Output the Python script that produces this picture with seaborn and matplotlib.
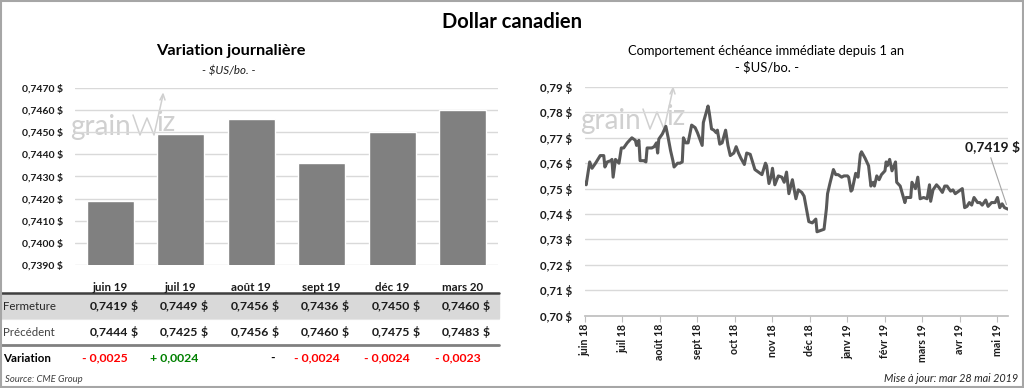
import matplotlib
matplotlib.use("Agg")
import matplotlib.pyplot as plt
import matplotlib.transforms as mtransforms
from matplotlib.patches import Rectangle
from matplotlib.ticker import MultipleLocator, FuncFormatter
import numpy as np
import pandas as pd
import seaborn as sns

# ---------------- data ----------------
contracts = ["juin 19", "juil 19", "août 19", "sept 19", "déc 19", "mars 20"]
fermeture = [0.7419, 0.7449, 0.7456, 0.7436, 0.7450, 0.7460]
precedent = [0.7444, 0.7425, 0.7456, 0.7460, 0.7475, 0.7483]
variation = [-0.0025, 0.0024, 0.0, -0.0024, -0.0024, -0.0023]

start_date = "2018-06-01"
day_offsets = [
    0, 1, 4, 6, 9, 11, 13, 16, 17, 19, 22, 23, 24, 26, 29, 31, 33, 36, 40, 43,
    44, 46, 47, 50, 52, 53, 57, 59, 61, 62, 63, 66, 69, 71, 73, 75, 76, 79, 81, 83,
    84, 86, 88, 91, 94, 96, 100, 101, 105, 106, 108, 110, 112, 113, 115, 117, 120, 122, 124, 127,
    129, 131, 133, 136, 138, 141, 143, 145, 148, 151, 154, 155, 157, 159, 160, 162, 165, 168, 170, 172,
    174, 177, 180, 182, 185, 187, 189, 191, 194, 197, 198, 201, 204, 206, 207, 209, 212, 214, 216, 219,
    221, 224, 225, 227, 228, 231, 233, 235, 236, 239, 242, 244, 246, 247, 249, 251, 253, 256, 257, 258,
    260, 262, 265, 266, 269, 273, 274, 278, 279, 282, 284, 286, 289, 292, 294, 295, 297, 300, 302, 305,
    307, 309, 312, 314, 316, 319, 322, 324, 326, 328, 330, 332, 335, 337, 339, 342, 344, 347, 350, 352,
    354, 356, 358, 361,
]
prices = [
    0.7525, 0.7515, 0.7605, 0.7580, 0.7600, 0.7615, 0.7630, 0.7630, 0.7585, 0.7605,
    0.7610, 0.7615, 0.7545, 0.7615, 0.7600, 0.7660, 0.7660, 0.7680, 0.7700, 0.7690,
    0.7670, 0.7690, 0.7610, 0.7610, 0.7605, 0.7660, 0.7660, 0.7665, 0.7680, 0.7640,
    0.7695, 0.7715, 0.7745, 0.7700, 0.7650, 0.7610, 0.7585, 0.7600, 0.7600, 0.7605,
    0.7700, 0.7680, 0.7680, 0.7750, 0.7740, 0.7720, 0.7670, 0.7760, 0.7825, 0.7800,
    0.7735, 0.7730, 0.7720, 0.7730, 0.7675, 0.7680, 0.7730, 0.7670, 0.7630, 0.7640,
    0.7665, 0.7640, 0.7620, 0.7595, 0.7640, 0.7635, 0.7605, 0.7575, 0.7565, 0.7555,
    0.7600, 0.7590, 0.7520, 0.7550, 0.7580, 0.7515, 0.7550, 0.7545, 0.7525, 0.7565,
    0.7480, 0.7535, 0.7460, 0.7495, 0.7485, 0.7470, 0.7420, 0.7370, 0.7365, 0.7380,
    0.7330, 0.7335, 0.7340, 0.7420, 0.7480, 0.7520, 0.7575, 0.7555, 0.7555, 0.7545,
    0.7550, 0.7550, 0.7545, 0.7490, 0.7495, 0.7560, 0.7545, 0.7635, 0.7645, 0.7620,
    0.7590, 0.7510, 0.7525, 0.7510, 0.7550, 0.7535, 0.7555, 0.7570, 0.7605, 0.7590,
    0.7615, 0.7570, 0.7605, 0.7525, 0.7510, 0.7445, 0.7465, 0.7465, 0.7525, 0.7500,
    0.7545, 0.7460, 0.7465, 0.7460, 0.7515, 0.7450, 0.7495, 0.7515, 0.7505, 0.7485,
    0.7510, 0.7510, 0.7490, 0.7495, 0.7480, 0.7490, 0.7500, 0.7425, 0.7430, 0.7445,
    0.7435, 0.7465, 0.7445, 0.7445, 0.7435, 0.7455, 0.7430, 0.7445, 0.7445, 0.7465,
    0.7425, 0.7440, 0.7425, 0.7419,
]
last_price_label = "0,7419 $"
fr_months = ["janv", "févr", "mars", "avr", "mai", "juin",
             "juil", "août", "sept", "oct", "nov", "déc"]

assert len(day_offsets) == len(prices)

# ---------------- style ----------------
sns.set_theme(style="white")
plt.rcParams["font.family"] = ["Lato", "DejaVu Sans"]

W, H = 1024, 388
fig = plt.figure(figsize=(W / 100, H / 100), dpi=100)
fig.patch.set_facecolor("white")


def rect(x0, y0, x1, y1):
    return [x0 / W, 1 - y1 / H, (x1 - x0) / W, (y1 - y0) / H]


overlay = fig.add_axes([0, 0, 1, 1], zorder=0)
overlay.set_xlim(0, W)
overlay.set_ylim(H, 0)
overlay.axis("off")

GRID = "#d9d9d9"
TXT = "#1a1a1a"

# ---------------- left: bar chart ----------------
ax1 = fig.add_axes(rect(75, 88, 498, 265), zorder=1)
ax1.patch.set_alpha(0)
sns.barplot(x=contracts, y=fermeture, color="#808080", saturation=1,
            width=0.67, ax=ax1)
ax1.set_ylim(0.739, 0.747)
ax1.yaxis.set_major_locator(MultipleLocator(0.001))
ax1.yaxis.set_major_formatter(
    FuncFormatter(lambda v, p: f"{v:.4f}".replace(".", ",") + " $"))
ax1.yaxis.grid(True, color=GRID, lw=1)
ax1.set_axisbelow(True)
for s in ax1.spines.values():
    s.set_visible(False)
ax1.set_xlabel("")
ax1.set_ylabel("")
ax1.tick_params(axis="y", length=0, pad=8.5, labelsize=7.5, labelcolor=TXT)
ax1.tick_params(axis="x", length=0, pad=12, labelsize=8.3, labelcolor=TXT)
for lab in ax1.get_yticklabels() + ax1.get_xticklabels():
    lab.set_fontweight("bold")

# ---------------- right: line chart ----------------
dates = pd.to_datetime(start_date) + pd.to_timedelta(day_offsets, unit="D")
ax2 = fig.add_axes(rect(585, 87, 1008, 315.6), zorder=1)
ax2.patch.set_alpha(0)
sns.lineplot(x=dates, y=prices, ax=ax2, color="#595959", lw=2.2)
ax2.set_xlim(dates[0], dates[-1])
ax2.set_ylim(0.70, 0.79)
ax2.yaxis.set_major_locator(MultipleLocator(0.01))
ax2.yaxis.set_major_formatter(
    FuncFormatter(lambda v, p: f"{v:.2f}".replace(".", ",") + " $"))
ax2.yaxis.grid(True, color=GRID, lw=1)
ax2.set_axisbelow(True)
for k, s in ax2.spines.items():
    s.set_visible(k == "bottom")
ax2.spines["bottom"].set_color("#bfbfbf")
ax2.set_xlabel("")
ax2.set_ylabel("")
xt = pd.date_range(dates[0], periods=12, freq="32D")
ax2.set_xticks(xt)
ax2.set_xticklabels([f"{fr_months[d.month - 1]} {d.year % 100:02d}" for d in xt],
                    rotation=90, fontweight="bold", fontsize=7.7, color=TXT)
ax2.tick_params(axis="x", length=4, width=0.8, color="#bfbfbf", pad=2,
                bottom=True)
ax2.tick_params(axis="y", length=0, pad=9, labelsize=8.3, labelcolor=TXT)
for lab in ax2.get_yticklabels():
    lab.set_fontweight("bold")

ax2.annotate(last_price_label, xy=(dates[-1], prices[-1]),
             xytext=(-11.5, 45), textcoords="offset points",
             ha="center", va="center", fontsize=10, fontweight="bold", color=TXT,
             arrowprops=dict(arrowstyle="-", color="#a6a6a6", lw=0.8,
                             relpos=(0.45, 0), shrinkA=1, shrinkB=3.5))

# ---------------- titles ----------------
overlay.text(512, 22, "Dollar canadien", ha="center", va="center",
             fontsize=14.5, fontweight="bold", color="#000000")
overlay.text(231, 51, "Variation journalière", ha="center", va="center",
             fontsize=11.8, fontweight="bold", color="#000000")
overlay.text(229, 71, "- $US/bo. -", ha="center", va="center",
             fontsize=8.3, style="italic", color=TXT)
overlay.text(766, 51, "Comportement échéance immédiate depuis 1 an",
             ha="center", va="center", fontsize=9.4, color="#000000")
overlay.text(767, 67, "- $US/bo. -", ha="center", va="center",
             fontsize=9.4, color="#000000")


# ---------------- watermarks ----------------
def logo(x0, yb):
    c = "#d0d0d0"
    overlay.text(x0, yb, "grain", fontsize=20, color=c, ha="left",
                 va="baseline", zorder=0)
    xs = [x0 + 63, x0 + 70, x0 + 77, x0 + 84, x0 + 93]
    ys = [yb - 20, yb, yb - 17, yb, yb - 40]
    overlay.plot(xs, ys, color=c, lw=1.1, zorder=0)
    overlay.plot([x0 + 90, x0 + 93, x0 + 95], [yb - 35, yb - 41, yb - 35],
                 color=c, lw=1.1, zorder=0)
    overlay.text(x0 + 86, yb - 4, "iz", fontsize=20, color=c, ha="left",
                 va="baseline", zorder=0)


logo(70, 135)
logo(580, 129)

# ---------------- table ----------------
trans = mtransforms.blended_transform_factory(ax1.transData, overlay.transData)
overlay.add_patch(Rectangle((0, 294), 499, 24, color="#d9d9d9", zorder=1))
overlay.plot([0, 499], [293, 293], color="#3f3f3f", lw=1.8, zorder=2)
overlay.plot([0, 499], [319, 319], color="#e6e6e6", lw=0.8, zorder=2)
overlay.plot([0, 499], [344.5, 344.5], color="#808080", lw=2, zorder=2)

overlay.text(3, 306, "Fermeture", ha="left", va="center", fontsize=8.3,
             color="#262626", zorder=3)
overlay.text(3, 332, "Précédent", ha="left", va="center", fontsize=8.3,
             color="#404040", zorder=3)
overlay.text(3, 358, "Variation", ha="left", va="center", fontsize=8.3,
             fontweight="bold", color="#000000", zorder=3)


def fmt4(v):
    return f"{v:.4f}".replace(".", ",")


for i in range(len(contracts)):
    for yrow, vals in ((306, fermeture), (332, precedent)):
        overlay.text(i + 0.25, yrow, fmt4(vals[i]), transform=trans,
                     ha="right", va="center", fontsize=8.8, fontweight="bold",
                     color=TXT, zorder=3)
        overlay.text(i + 0.385, yrow, "$", transform=trans, ha="right",
                     va="center", fontsize=8.8, fontweight="bold", color=TXT,
                     zorder=3)
    v = variation[i]
    if v < 0:
        overlay.text(i + 0.25, 358, "- " + fmt4(-v), transform=trans,
                     ha="right", va="center", fontsize=8.8, fontweight="bold",
                     color="#ff0000", zorder=3)
    elif v > 0:
        overlay.text(i + 0.25, 358, "+ " + fmt4(v), transform=trans,
                     ha="right", va="center", fontsize=8.8, fontweight="bold",
                     color="#008000", zorder=3)
    else:
        overlay.text(i + 0.33, 358, "-", transform=trans, ha="right",
                     va="center", fontsize=8.8, fontweight="bold",
                     color="#000000", zorder=3)

# ---------------- footers & border ----------------
overlay.text(5, 379, "Source: CME Group", ha="left", va="center",
             fontsize=6.8, style="italic", color="#404040")
overlay.text(1018, 378, "Mise à jour: mar 28 mai 2019", ha="right",
             va="center", fontsize=7.8, style="italic", color="#262626")
overlay.add_patch(Rectangle((0.8, 0.8), W - 1.6, H - 1.6, fill=False,
                            edgecolor="#a6a6a6", lw=1.5, zorder=5))

fig.savefig("out.png", dpi=100, facecolor="white")
